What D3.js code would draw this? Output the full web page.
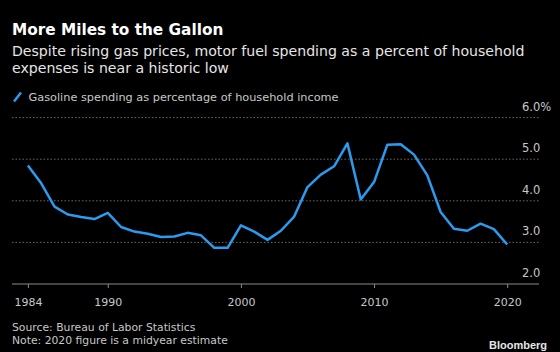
<!DOCTYPE html>
<html>
<head>
<meta charset="utf-8">
<script src="https://cdn.jsdelivr.net/npm/d3@7"></script>
<style>
  body { margin: 0; background: #000; }
  svg { display: block; font-family: "DejaVu Sans", sans-serif; }
</style>
</head>
<body>
<div id="chart-container"></div>
<script>
// gasoline spending as % of household income, by year
var years = [1984, 1985, 1986, 1987, 1988, 1989, 1990, 1991, 1992, 1993, 1994, 1995,
  1996, 1997, 1998, 1999, 2000, 2001, 2002, 2003, 2004, 2005, 2006, 2007, 2008,
  2009, 2010, 2011, 2012, 2013, 2014, 2015, 2016, 2017, 2018, 2019, 2020];
var values = [4.85, 4.42, 3.86, 3.67, 3.61, 3.56, 3.71, 3.37, 3.26, 3.21, 3.13, 3.14,
  3.23, 3.17, 2.87, 2.87, 3.41, 3.26, 3.06, 3.28, 3.62, 4.33, 4.63, 4.83, 5.38,
  4.03, 4.45, 5.35, 5.36, 5.11, 4.61, 3.73, 3.33, 3.28, 3.45, 3.32, 2.95];
var xTicks = [1984, 1990, 2000, 2010, 2020];
var yTicks = [2, 3, 4, 5, 6];

var svgWidth = 560;
var svgHeight = 352;

var svg = d3.select("#chart-container")
    .append("svg")
    .attr("width", svgWidth)
    .attr("height", svgHeight);

svg.append("rect")
    .attr("width", svgWidth)
    .attr("height", svgHeight)
    .attr("fill", "#000");

// header
svg.append("text")
    .attr("x", 12).attr("y", 34.5)
    .attr("fill", "#fff")
    .attr("font-size", 15.3)
    .attr("font-weight", "bold")
    .text("More Miles to the Gallon");

var sub = ["Despite rising gas prices, motor fuel spending as a percent of household",
  "expenses is near a historic low"];
svg.selectAll(".sub")
    .data(sub)
    .enter().append("text")
    .attr("class", "sub")
    .attr("x", 12)
    .attr("y", function(d, i) { return 55.5 + i * 17.5; })
    .attr("fill", "#e6e6e6")
    .attr("font-size", 14.1)
    .text(function(d) { return d; });

// legend
svg.append("line")
    .attr("x1", 14).attr("y1", 101.5)
    .attr("x2", 21).attr("y2", 92.5)
    .attr("stroke", "#2b9bf0")
    .attr("stroke-width", 2.5);
svg.append("text")
    .attr("x", 28.5).attr("y", 100.5)
    .attr("fill", "#c8c8c8")
    .attr("font-size", 11.3)
    .text("Gasoline spending as percentage of household income");

// scales
var x = d3.scaleLinear()
    .domain([1984, 2020])
    .range([27.9, 507.2]);

var y = d3.scaleLinear()
    .domain([2, 6])
    .range([284, 117.6]);

var left = 12, right = 539;

// dotted gridlines
svg.selectAll(".grid")
    .data(yTicks.slice(1))
    .enter().append("line")
    .attr("class", "grid")
    .attr("x1", left).attr("x2", right)
    .attr("y1", function(d) { return y(d); })
    .attr("y2", function(d) { return y(d); })
    .attr("stroke", "#6b6b6b")
    .attr("stroke-width", 1)
    .attr("stroke-dasharray", "1.5,2");

// y labels sit above their gridline
svg.selectAll(".ylab")
    .data(yTicks)
    .enter().append("text")
    .attr("class", "ylab")
    .attr("x", 522)
    .attr("y", function(d) { return y(d) - 7; })
    .attr("fill", "#c8c8c8")
    .attr("font-size", 11.5)
    .text(function(d) { return d3.format(".1f")(d) + (d === 6 ? "%" : ""); });

// x axis
var xAxis = svg.append("g")
    .attr("transform", "translate(0," + y(2) + ")")
    .call(d3.axisBottom(x)
      .tickValues(xTicks)
      .tickFormat(d3.format("d"))
      .tickSize(4)
      .tickPadding(10));
xAxis.select(".domain").remove();
xAxis.insert("line", ":first-child")
    .attr("x1", left).attr("x2", right)
    .attr("stroke", "#8a8a8a")
    .attr("stroke-width", 1.2);
xAxis.selectAll(".tick line").attr("stroke", "#8a8a8a");
xAxis.selectAll(".tick text")
    .attr("fill", "#c8c8c8")
    .attr("font-size", 11)
    .attr("font-family", "DejaVu Sans, sans-serif");

// line
var line = d3.line()
    .x(function(d, i) { return x(years[i]); })
    .y(function(d) { return y(d); });

svg.append("path")
    .datum(values)
    .attr("fill", "none")
    .attr("stroke", "#2b9bf0")
    .attr("stroke-width", 2.5)
    .attr("stroke-linejoin", "round")
    .attr("d", line);

// footer
svg.append("text")
    .attr("x", 12).attr("y", 331)
    .attr("fill", "#c8c8c8")
    .attr("font-size", 10.8)
    .text("Source: Bureau of Labor Statistics");
svg.append("text")
    .attr("x", 12).attr("y", 344)
    .attr("fill", "#c8c8c8")
    .attr("font-size", 10.8)
    .text("Note: 2020 figure is a midyear estimate");
svg.append("text")
    .attr("x", 547).attr("y", 348.5)
    .attr("text-anchor", "end")
    .attr("fill", "#e6e6e6")
    .attr("font-size", 11)
    .attr("font-weight", "bold")
    .attr("font-family", "Liberation Sans, Arial, sans-serif")
    .text("Bloomberg");
</script>
</body>
</html>
